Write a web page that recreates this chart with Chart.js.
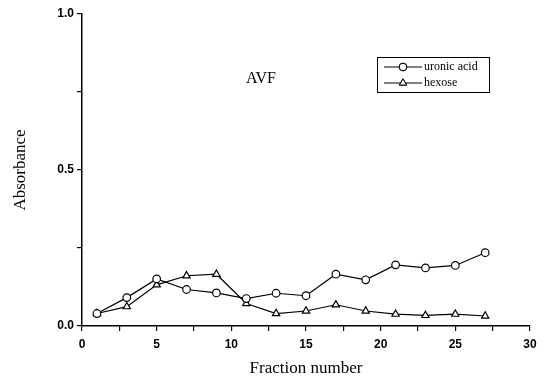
<!DOCTYPE html>
<html>
<head>
<meta charset="utf-8">
<script src="https://cdn.jsdelivr.net/npm/chart.js@4"></script>
<style>
html,body{margin:0;padding:0;background:#fff;}
#wrap{width:548px;height:379px;}
</style>
</head>
<body>
<div id="wrap"><canvas id="chart"></canvas></div>
<script>
// fraction numbers and absorbance
const fractions=[1,3,5,7,9,11,13,15,17,19,21,23,25,27]
const uronicAcid=[0.040,0.091,0.151,0.117,0.106,0.088,0.105,0.097,0.166,0.148,0.196,0.186,0.194,0.235]
const hexose=[0.040,0.062,0.132,0.161,0.166,0.072,0.040,0.048,0.068,0.048,0.038,0.034,0.038,0.032]
const seriesNames=['uronic acid','hexose']
const panelLabel='AVF'

const ctx=document.getElementById('chart').getContext('2d')

function toPoints(vals){
  return fractions.map((f,i)=>({x:f,y:vals[i]}))
}

// legend box + AVF label drawn inside the plot like the original
const insideText={
  id:'insideText',
  afterDraw(chart){
    const c=chart.ctx
    c.save()
    c.fillStyle='#000'
    c.font='16px "Liberation Serif"'
    c.textBaseline='middle'
    c.fillText(panelLabel,246,79)

    // legend
    c.strokeStyle='#000'
    c.lineWidth=1
    c.strokeRect(377.5,57.5,112,35)
    const rows=[67,83]
    chart.data.datasets.forEach((ds,i)=>{
      const y=rows[i]
      c.beginPath()
      c.moveTo(384,y);c.lineTo(422,y)
      c.lineWidth=1
      c.stroke()
      Chart.helpers.drawPoint(c,{pointStyle:ds.pointStyle,radius:ds.pointRadius,borderWidth:1},403,y)
      c.fillStyle='#fff'
      c.fill()
      c.stroke()
      c.fillStyle='#000'
      c.font='12px "Liberation Serif"'
      c.fillText(ds.label,424,y)
    })
    c.restore()
  }
}

new Chart(ctx,{
  type:'line',
  data:{
    datasets:[
      {
        label:seriesNames[0],
        data:toPoints(uronicAcid),
        borderColor:'#000',
        borderWidth:1.2,
        pointStyle:'circle',
        pointRadius:3.8,
        pointBorderWidth:1.2,
        pointBackgroundColor:'#fff',
        pointBorderColor:'#000',
        tension:0
      },
      {
        label:seriesNames[1],
        data:toPoints(hexose),
        borderColor:'#000',
        borderWidth:1.2,
        pointStyle:'triangle',
        pointRadius:4.2,
        pointBorderWidth:1.2,
        pointBackgroundColor:'#fff',
        pointBorderColor:'#000',
        tension:0
      }
    ]
  },
  options:{
    responsive:true,
    maintainAspectRatio:false,
    animation:false,
    layout:{padding:{top:14,right:18,left:0,bottom:0}},
    plugins:{legend:{display:false},tooltip:{enabled:false}},
    scales:{
      x:{
        type:'linear',
        min:0,max:30,
        afterFit(s){s.height=53},
        border:{display:true,color:'#000',width:1.5},
        grid:{drawOnChartArea:false,color:'#000',tickLength:5,lineWidth:1.2},
        ticks:{
          stepSize:2.5,
          autoSkip:false,
          maxRotation:0,
          padding:6,
          color:'#000',
          font:{family:'"Liberation Sans"',weight:'bold',size:12},
          callback:v=>(v%5===0?String(v):'')
        },
        title:{display:true,text:'Fraction number',color:'#000',
          font:{family:'"Liberation Serif"',size:17},padding:{top:7,bottom:0}}
      },
      y:{
        min:0,max:1,
        afterFit(s){s.width=82},
        border:{display:true,color:'#000',width:1.5},
        grid:{drawOnChartArea:false,color:'#000',tickLength:5,lineWidth:1.2},
        ticks:{
          stepSize:0.25,
          autoSkip:false,
          padding:3,
          color:'#000',
          font:{family:'"Liberation Sans"',weight:'bold',size:12},
          callback:v=>(Math.abs(v*2-Math.round(v*2))<1e-6?v.toFixed(1):'')
        },
        title:{display:true,text:'Absorbance',color:'#000',
          font:{family:'"Liberation Serif"',size:17},padding:{top:10,bottom:0}}
      }
    }
  },
  plugins:[insideText]
})
</script>
</body>
</html>
